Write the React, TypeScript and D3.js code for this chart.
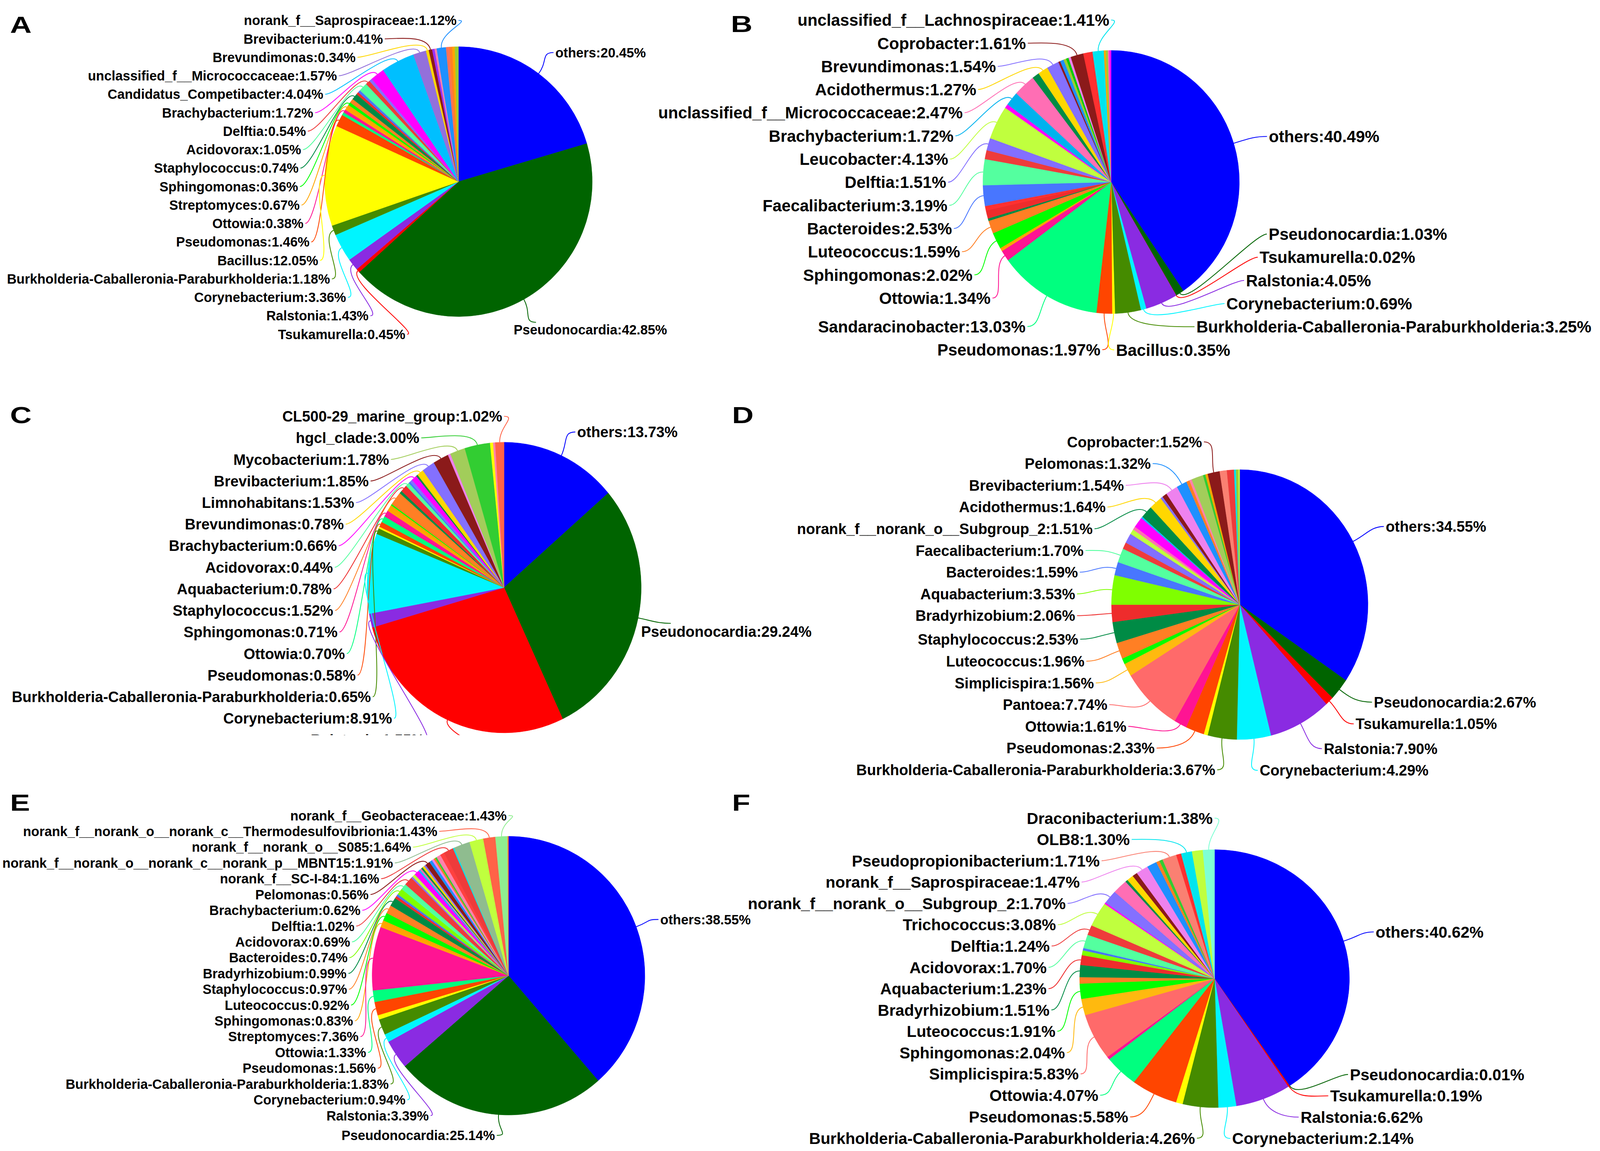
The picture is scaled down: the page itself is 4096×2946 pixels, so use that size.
import React from 'react';
import * as d3 from 'd3';

const FULL_W = 4317;
const FULL_H = 3105;
const FONT = '"Liberation Sans", Arial, Helvetica, sans-serif';

// ---------------- Panel A ----------------
const namesA = ['others', 'Pseudonocardia', 'Tsukamurella', 'Ralstonia', 'Corynebacterium',
  'Burkholderia-Caballeronia-Paraburkholderia', 'Bacillus', 'Pseudomonas', '', 'Ottowia', 'Streptomyces',
  'Sphingomonas', '', 'Staphylococcus', '', '', 'Acidovorax', 'Delftia', '', 'Brachybacterium',
  'Candidatus_Competibacter', 'unclassified_f__Micrococcaceae', 'Brevundimonas', 'Brevibacterium', '', '',
  'norank_f__Saprospiraceae', '', '', '', ''];
const valuesA = [20.45, 42.85, 0.45, 1.43, 3.36, 1.18, 12.05, 1.46, 0.35, 0.38, 0.67, 0.36, 0.5, 0.74, 0.3, 0.3,
  1.05, 0.54, 0.35, 1.72, 4.04, 1.57, 0.34, 0.41, 0.3, 0.25, 1.12, 0.4, 0.35, 0.3, 0.43];
const colorsA = ['#0000FF', '#006400', '#FF0000', '#8A2BE2', '#00F5FF', '#458B00', '#FFFF00', '#FF4500', '#00FF7F',
  '#FF1493', '#FFA500', '#00FF00', '#FF7F24', '#008B45', '#EE2C2C', '#4876FF', '#54FF9F', '#EE3B3B', '#836FFF',
  '#FF00FF', '#00BFFF', '#9370DB', '#FFD700', '#8B1A1A', '#9B30FF', '#FF82AB', '#1E90FF', '#FF7256', '#FF7F24',
  '#FFA500', '#9ACD32'];

// ---------------- Panel B ----------------
const namesB = ['others', 'Pseudonocardia', 'Tsukamurella', 'Ralstonia', 'Corynebacterium',
  'Burkholderia-Caballeronia-Paraburkholderia', 'Bacillus', 'Pseudomonas', 'Sandaracinobacter', 'Ottowia', '',
  'Sphingomonas', 'Luteococcus', '', '', '', 'Bacteroides', 'Faecalibacterium', '', 'Delftia', 'Leucobacter', '',
  'Brachybacterium', '', 'unclassified_f__Micrococcaceae', '', 'Acidothermus', 'Brevundimonas', '', '', '', '', '',
  'Coprobacter', '', 'unclassified_f__Lachnospiraceae', '', '', '', ''];
const valuesB = [40.49, 1.03, 0.02, 4.05, 0.69, 3.25, 0.35, 1.97, 13.03, 1.34, 0.4, 2.02, 1.59, 0.3, 1.0, 0.55,
  2.53, 3.19, 1.1, 1.51, 4.13, 0.5, 1.72, 0.32, 2.47, 0.9, 1.27, 1.54, 0.25, 0.45, 0.35, 0.3, 0.3, 1.61, 1.17, 1.41,
  0.25, 0.25, 0.2, 0.2];
const colorsB = ['#0000FF', '#006400', '#FF0000', '#8A2BE2', '#00F5FF', '#458B00', '#FFFF00', '#FF4500', '#00FF7F',
  '#FF1493', '#FFA500', '#00FF00', '#FF7F24', '#008B45', '#EE2C2C', '#FF3030', '#4876FF', '#54FF9F', '#EE3B3B',
  '#836FFF', '#C0FF3E', '#FF00FF', '#00B2EE', '#FF6EB4', '#FF6EB4', '#008B45', '#FFD700', '#8470FF', '#8B1A1A',
  '#1E90FF', '#9ACD32', '#00CD00', '#EE82EE', '#8B1A1A', '#FF3030', '#00E5EE', '#FFA500', '#9ACD32', '#FF69B4',
  '#FF00FF'];

// ---------------- Panel C ----------------
const namesC = ['others', 'Pseudonocardia', 'Tsukamurella', 'Ralstonia', 'Corynebacterium',
  'Burkholderia-Caballeronia-Paraburkholderia', '', 'Pseudomonas', 'Ottowia', 'Sphingomonas', '', '',
  'Staphylococcus', '', 'Aquabacterium', 'Acidovorax', '', '', 'Brachybacterium', '', 'Brevundimonas',
  'Limnohabitans', 'Brevibacterium', '', 'Mycobacterium', 'hgcl_clade', '', '', 'CL500-29_marine_group'];
const valuesC = [13.73, 29.24, 27.6, 1.55, 8.91, 0.65, 0.2, 0.58, 0.70, 0.71, 0.72, 0.15, 1.52, 0.3, 0.78, 0.44,
  0.2, 0.3, 0.66, 0.2, 0.78, 1.53, 1.85, 0.3, 1.78, 3.00, 0.35, 0.25, 1.02];
const colorsC = ['#0000FF', '#006400', '#FF0000', '#8A2BE2', '#00F5FF', '#458B00', '#FFFF00', '#FF4500', '#00FF7F',
  '#FF1493', '#FFA500', '#00FF00', '#FF7F24', '#008B45', '#EE2C2C', '#54FF9F', '#4876FF', '#836FFF', '#FF00FF',
  '#008B45', '#FFD700', '#8470FF', '#8B1A1A', '#EE82EE', '#A2CD5A', '#32CD32', '#FFFF00', '#FF82AB', '#FF6347'];

// ---------------- Panel D ----------------
const namesD = ['others', 'Pseudonocardia', 'Tsukamurella', 'Ralstonia', 'Corynebacterium',
  'Burkholderia-Caballeronia-Paraburkholderia', '', 'Pseudomonas', 'Ottowia', 'Pantoea', 'Simplicispira', '',
  'Luteococcus', 'Staphylococcus', 'Bradyrhizobium', 'Aquabacterium', 'Bacteroides', 'Faecalibacterium', '', '',
  '', '', '', '', 'norank_f__norank_o__Subgroup_2', 'Acidothermus', '', '', 'Brevibacterium', 'Pelomonas', '', '',
  '', '', '', 'Coprobacter', '', '', '', '', ''];
const valuesD = [34.55, 2.67, 1.05, 7.90, 4.29, 3.67, 0.5, 2.33, 1.61, 7.74, 1.56, 0.7, 1.96, 2.53, 2.06, 3.53,
  1.59, 1.70, 0.8, 1.2, 0.6, 0.4, 1.3, 0.2, 1.51, 1.64, 0.3, 0.6, 1.54, 1.32, 0.4, 0.3, 1.5, 0.3, 0.3, 1.52, 0.9,
  0.9, 0.25, 0.3, 0.15];
const colorsD = ['#0000FF', '#006400', '#FF0000', '#8A2BE2', '#00F5FF', '#458B00', '#FFFF00', '#FF4500', '#FF1493',
  '#FF6A6A', '#FFB90F', '#00FF00', '#FF7F24', '#008B45', '#EE2C2C', '#7FFF00', '#4876FF', '#54FF9F', '#EE3B3B',
  '#836FFF', '#C0FF3E', '#FF6EB4', '#FF00FF', '#00BFFF', '#008B45', '#FFD700', '#8470FF', '#8B1A1A', '#EE82EE',
  '#1E90FF', '#FF7F24', '#FF82AB', '#A2CD5A', '#32CD32', '#FFA500', '#8B1A1A', '#FA8072', '#EE3B3B', '#00E5EE',
  '#9ACD32', '#C0FF3E'];

// ---------------- Panel E ----------------
const namesE = ['others', 'Pseudonocardia', 'Ralstonia', 'Corynebacterium',
  'Burkholderia-Caballeronia-Paraburkholderia', '', 'Pseudomonas', 'Ottowia', 'Streptomyces', 'Sphingomonas',
  'Luteococcus', 'Staphylococcus', 'Bradyrhizobium', '', '', 'Bacteroides', 'Acidovorax', 'Delftia', '', '',
  'Brachybacterium', '', '', '', '', '', 'Pelomonas', '', '', '', '', '', '', 'norank_f__SC-I-84', '',
  'norank_f__norank_o__norank_c__norank_p__MBNT15', 'norank_f__norank_o__S085',
  'norank_f__norank_o__norank_c__Thermodesulfovibrionia', 'norank_f__Geobacteraceae', ''];
const valuesE = [38.55, 25.14, 3.39, 0.94, 1.83, 0.5, 1.56, 1.33, 7.36, 0.83, 0.92, 0.97, 0.99, 0.3, 0.25, 0.74,
  0.69, 1.02, 0.2, 0.35, 0.62, 0.2, 0.2, 0.2, 0.25, 0.2, 0.56, 0.35, 0.25, 0.2, 0.2, 0.5, 0.5, 1.16, 0.15, 1.91,
  1.64, 1.43, 1.43, 0.1];
const colorsE = ['#0000FF', '#006400', '#8A2BE2', '#00F5FF', '#458B00', '#FFFF00', '#FF4500', '#00FF7F', '#FF1493',
  '#FFA500', '#00FF00', '#FF7F24', '#008B45', '#EE2C2C', '#4876FF', '#7FFF00', '#54FF9F', '#EE3B3B', '#836FFF',
  '#C0FF3E', '#FF00FF', '#00BFFF', '#FF6EB4', '#008B45', '#FFD700', '#8470FF', '#8B1A1A', '#1E90FF', '#EE82EE',
  '#FF7F24', '#32CD32', '#FF82AB', '#FF4040', '#EE3B3B', '#00E5EE', '#8FBC8F', '#C0FF3E', '#FF6347', '#90EE90',
  '#FF7F24'];

// ---------------- Panel F ----------------
const namesF = ['others', 'Pseudonocardia', 'Tsukamurella', 'Ralstonia', 'Corynebacterium',
  'Burkholderia-Caballeronia-Paraburkholderia', '', 'Pseudomonas', 'Ottowia', '', 'Simplicispira', 'Sphingomonas',
  'Luteococcus', '', 'Bradyrhizobium', 'Aquabacterium', '', '', 'Acidovorax', 'Delftia', 'Trichococcus', '',
  'norank_f__norank_o__Subgroup_2', '', '', '', '', 'norank_f__Saprospiraceae', '', '', '',
  'Pseudopropionibacterium', '', 'OLB8', '', 'Draconibacterium'];
const valuesF = [40.62, 0.01, 0.19, 6.62, 2.14, 4.26, 0.8, 5.58, 4.07, 0.35, 5.83, 2.04, 1.91, 0.8, 1.51, 1.23,
  0.6, 0.3, 1.70, 1.24, 3.08, 0.2, 1.70, 1.8, 0.3, 0.8, 0.6, 1.47, 1.2, 0.4, 0.4, 1.71, 0.6, 1.30, 1.3, 1.38];
const colorsF = ['#0000FF', '#006400', '#FF0000', '#8A2BE2', '#00F5FF', '#458B00', '#FFFF00', '#FF4500', '#00FF7F',
  '#FF1493', '#FF6A6A', '#FFB90F', '#00FF00', '#FF7F24', '#008B45', '#EE2C2C', '#7FFF00', '#4876FF', '#54FF9F',
  '#EE3B3B', '#C0FF3E', '#FF00FF', '#8470FF', '#FF6EB4', '#008B45', '#FFD700', '#8B1A1A', '#EE82EE', '#1E90FF',
  '#FF7F24', '#32CD32', '#FA8072', '#FF3030', '#00E5EE', '#C0FF3E', '#7FFFD4'];

// ---------------- Layout (positions / sizes, kept apart from data) ----------------
interface Layout {
  letter: string; letterX: number; letterY: number;
  cx: number; cy: number; rx: number; ry: number;
  Rx: number; Ry: number; lcy?: number; font: number; step: number; maxX: number;
  minTop?: number; clipBottom?: number;
}

const layoutA: Layout = { letter: 'A', letterX: 27, letterY: 89, cx: 1237, cy: 490, rx: 361, ry: 364, Rx: 428, Ry: 435, font: 36, step: 49.8, maxX: 1800 };
const layoutB: Layout = { letter: 'B', letterX: 1972, letterY: 86, cx: 2998, cy: 491, rx: 346, ry: 355, Rx: 440, Ry: 445, lcy: 499, font: 44, step: 62.5, maxX: 4310 };
const layoutC: Layout = { letter: 'C', letterX: 27, letterY: 1141, cx: 1360, cy: 1585, rx: 370, ry: 392, Rx: 460, Ry: 462, font: 40, step: 58.2, maxX: 2190, clipBottom: 1983 };
const layoutD: Layout = { letter: 'D', letterX: 1975, letterY: 1141, cx: 3345, cy: 1631, rx: 346, ry: 364, Rx: 440, Ry: 450, font: 40, step: 58.6, maxX: 4310, minTop: 1192 };
const layoutE: Layout = { letter: 'E', letterX: 27, letterY: 2187, cx: 1372, cy: 2632, rx: 368, ry: 376, Rx: 432, Ry: 432, font: 36, step: 42.6, maxX: 2100 };
const layoutF: Layout = { letter: 'F', letterX: 1975, letterY: 2187, cx: 3277, cy: 2640, rx: 364, ry: 348, Rx: 449, Ry: 433, font: 43, step: 57.5, maxX: 4310 };

const panels = [
  { layout: layoutA, names: namesA, values: valuesA, colors: colorsA },
  { layout: layoutB, names: namesB, values: valuesB, colors: colorsB },
  { layout: layoutC, names: namesC, values: valuesC, colors: colorsC },
  { layout: layoutD, names: namesD, values: valuesD, colors: colorsD },
  { layout: layoutE, names: namesE, values: valuesE, colors: colorsE },
  { layout: layoutF, names: namesF, values: valuesF, colors: colorsF },
];

let measureCtx: CanvasRenderingContext2D | null = null;
function textWidth(s: string, size: number): number {
  if (!measureCtx) {
    const c = document.createElement('canvas');
    measureCtx = c.getContext('2d');
  }
  if (!measureCtx) return s.length * size * 0.55;
  measureCtx.font = `bold ${size}px ${FONT}`;
  return measureCtx.measureText(s).width;
}

function buildPanel(p: { layout: Layout; names: string[]; values: number[]; colors: string[] }) {
  const L = p.layout;
  const lcy = L.lcy !== undefined ? L.lcy : L.cy;
  const arcs = d3.pie<number>().value((d) => d).sort(null)(p.values);
  const arcGen = d3.arc<d3.PieArcDatum<number>>().innerRadius(0).outerRadius(L.rx);
  const items = arcs.map((a, i) => ({
    a,
    name: p.names[i],
    value: p.values[i],
    color: p.colors[i],
    mid: (a.startAngle + a.endAngle) / 2,
  }));

  type Lab = { name: string; value: number; color: string; mid: number; side: 'L' | 'R'; y: number };
  const left: Lab[] = [];
  const right: Lab[] = [];
  items.filter((d) => d.name).forEach((d) => {
    const side: 'L' | 'R' = Math.sin(d.mid) < 0 ? 'L' : 'R';
    const lab: Lab = { name: d.name, value: d.value, color: d.color, mid: d.mid, side, y: lcy - L.Ry * Math.cos(d.mid) };
    (side === 'L' ? left : right).push(lab);
  });

  const top = L.minTop !== undefined ? L.minTop : lcy - L.Ry;
  for (const arr of [left, right]) {
    arr.sort((a, b) => a.y - b.y);
    const n = arr.length;
    for (let i = n - 1; i >= 0; i--) {
      const lim = i === n - 1 ? lcy + L.Ry : arr[i + 1].y - L.step;
      arr[i].y = Math.min(arr[i].y, lim);
    }
    for (let i = 0; i < n; i++) {
      const lim = i === 0 ? top : arr[i - 1].y + L.step;
      arr[i].y = Math.max(arr[i].y, lim);
    }
  }

  const gap = 5;
  const labels = [...left, ...right].map((lb) => {
    const dy = lb.y - lcy;
    const t = Math.max(-1, Math.min(1, dy / L.Ry));
    const dx = L.Rx * Math.sqrt(1 - t * t);
    const ax = lb.side === 'L' ? L.cx - dx : L.cx + dx;
    const ay = lb.y;
    const ux = Math.sin(lb.mid);
    const uy = -Math.cos(lb.mid);
    const ex = L.cx + L.rx * ux;
    const ey = L.cy + L.ry * uy;
    const L1 = 42;
    const L2 = 34;
    const p1x = ex + ux * L1;
    const p1y = ey + uy * L1;
    const p2x = ax + (lb.side === 'L' ? L2 : -L2);
    const p2y = ay;
    const path = `M${ex},${ey} C${p1x},${p1y} ${p2x},${p2y} ${ax},${ay}`;
    const text = `${lb.name}:${lb.value.toFixed(2)}%`;
    let tx = lb.side === 'L' ? ax - gap : ax + gap;
    let ty = ay;
    const anchor = lb.side === 'L' ? 'end' : 'start';
    if (lb.side === 'R') {
      const w = textWidth(text, L.font);
      if (tx + w > L.maxX) {
        tx = L.maxX - w;
        ty = ay + 0.55 * L.font;
      }
    }
    return { path, text, tx, ty, anchor, color: lb.color };
  });

  return { items, arcGen, labels };
}

export default function App() {
  const built = panels.map((p) => buildPanel(p));
  return (
    <>
      <style>{`html,body{margin:0;padding:0;background:#ffffff;}`}</style>
      <svg
        xmlns="http://www.w3.org/2000/svg"
        width={4096}
        height={2946}
        viewBox={`0 0 ${FULL_W} ${FULL_H}`}
        style={{ display: 'block', background: '#ffffff' }}
      >
        <defs>
          {panels.map((p, i) =>
            p.layout.clipBottom ? (
              <clipPath id={`clip-${i}`} key={`cp${i}`}>
                <rect x={0} y={0} width={FULL_W} height={p.layout.clipBottom} />
              </clipPath>
            ) : null
          )}
        </defs>
        <rect x={0} y={0} width={FULL_W} height={FULL_H} fill="#ffffff" />
        {panels.map((p, i) => {
          const L = p.layout;
          const b = built[i];
          return (
            <g key={`panel${i}`}>
              <g clipPath={L.clipBottom ? `url(#clip-${i})` : undefined}>
                <g transform={`translate(${L.cx},${L.cy}) scale(1,${L.ry / L.rx})`}>
                  {b.items.map((d, j) => (
                    <path
                      key={`s${j}`}
                      d={b.arcGen(d.a) || ''}
                      fill={d.color}
                      stroke={d.color}
                      strokeWidth={0.8}
                    />
                  ))}
                </g>
                {b.labels.map((lb, j) => (
                  <path key={`l${j}`} d={lb.path} fill="none" stroke={lb.color} strokeWidth={2.2} />
                ))}
                {b.labels.map((lb, j) => (
                  <text
                    key={`t${j}`}
                    x={lb.tx}
                    y={lb.ty}
                    dy="0.36em"
                    textAnchor={lb.anchor}
                    fontFamily={FONT}
                    fontWeight="bold"
                    fontSize={L.font}
                    fill="#000000"
                  >
                    {lb.text}
                  </text>
                ))}
              </g>
              <text
                transform={`translate(${L.letterX},${L.letterY}) scale(1.3,1)`}
                fontFamily={FONT}
                fontWeight="bold"
                fontSize={62}
                fill="#000000"
              >
                {L.letter}
              </text>
            </g>
          );
        })}
      </svg>
    </>
  );
}
